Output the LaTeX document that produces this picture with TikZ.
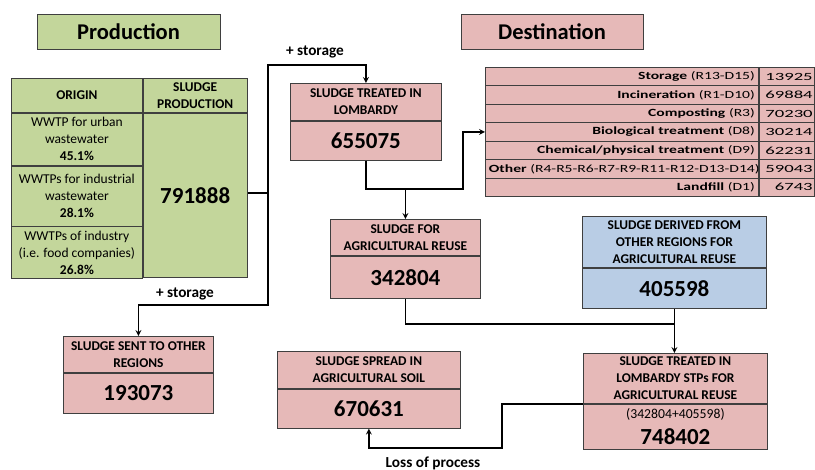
\documentclass[tikz,border=0pt]{standalone}
\usepackage{fontspec}
\setmainfont{Carlito}
\newfontfamily\rowfont[FakeStretch=1.42]{Carlito}
\newfontfamily\valfont[FakeStretch=1.7]{Carlito}
\usepackage{tikz}
\usetikzlibrary{arrows, positioning}

\definecolor{prodgreen}{HTML}{C3D69B}
\definecolor{destpink}{HTML}{E6B9B8}
\definecolor{regblue}{HTML}{B9CDE5}
\definecolor{edgegray}{HTML}{3F3F3F}

\begin{document}
\begin{tikzpicture}[x=1pt, y=-1pt, >=stealth,
        title/.style={rectangle, draw=edgegray, line width=0.8pt, minimum width=183pt, minimum height=35pt, font=\fontsize{22.5}{26}\selectfont\bfseries},
        cell/.style={rectangle, draw=edgegray, line width=0.8pt, inner sep=0pt, align=center, anchor=north west},
        head/.style={cell, font=\fontsize{13.4}{16.8}\selectfont\bfseries},
        txt/.style={cell, font=\fontsize{13.5}{17}\selectfont},
        num/.style={cell, font=\fontsize{23}{26}\selectfont\bfseries},
        row/.style={cell, minimum height=18.43pt, font=\rowfont\fontsize{11}{13}\selectfont},
        flow/.style={line width=1.6pt},
        note/.style={font=\fontsize{15.3}{17}\selectfont\bfseries}
        ]
        \useasboundingbox (0,0) rectangle (815,470);

        % Titles
        \node [title, fill=prodgreen] (prodt) at (128.5,31.5) {Production};
        \node [title, fill=destpink, minimum width=182pt] (destt) at (552,31.5) {Destination};

        % Production table
        \node [head, fill=prodgreen, minimum width=131pt, minimum height=34pt] (orig) at (11,78) {ORIGIN};
        \node [head, fill=prodgreen, minimum width=104pt, minimum height=34pt, right=0pt of orig] (prodh) {SLUDGE\\PRODUCTION};
        \node [txt, fill=prodgreen, minimum width=131pt, minimum height=52pt, below=0pt of orig] (o1) {WWTP for urban\\wastewater\\\textbf{45.1\%}};
        \node [txt, fill=prodgreen, minimum width=131pt, minimum height=60pt, below=0pt of o1] (o2) {WWTPs for industrial\\wastewater\\\textbf{28.1\%}};
        \node [txt, fill=prodgreen, minimum width=131pt, minimum height=52pt, below=0pt of o2] (o3) {WWTPs of industry\\(i.e. food companies)\\\textbf{26.8\%}};
        \node [num, fill=prodgreen, minimum width=104pt, minimum height=164pt, below=0pt of prodh] (prodv) {791888};

        % Destination table
        \foreach \lab/\val [count=\i] in {
            {\textbf{Storage} (R13-D15)}/13925,
            {\textbf{Incineration} (R1-D10)}/69884,
            {\textbf{Composting} (R3)}/70230,
            {\textbf{Biological treatment} (D8)}/30214,
            {\textbf{Chemical/physical treatment} (D9)}/62231,
            {\textbf{Other} (R4-R5-R6-R7-R9-R11-R12-D13-D14)}/59043,
            {\textbf{Landfill} (D1)}/6743} {
            \node [row, fill=destpink, minimum width=273pt, text width=266pt, inner xsep=3.5pt, align=right] (d\i) at (485,{67+18.43*(\i-1)}) {\mbox{\lab}};
            \node [row, fill=destpink, minimum width=55pt, text width=52pt, inner xsep=1.5pt, align=right, font=\valfont\fontsize{11}{13}\selectfont, right=0pt of d\i] (v\i) {\val};
        }

        % Boxes
        \node [head, fill=destpink, minimum width=151pt, minimum height=37pt] (lomb) at (290,83) {SLUDGE TREATED IN\\LOMBARDY};
        \node [num, fill=destpink, minimum width=151pt, minimum height=39pt, below=0pt of lomb] (lombv) {655075};

        \node [head, fill=destpink, minimum width=150pt, minimum height=36pt] (agri) at (330,219) {SLUDGE FOR\\AGRICULTURAL REUSE};
        \node [num, fill=destpink, minimum width=150pt, minimum height=42pt, below=0pt of agri] (agriv) {342804};

        \node [head, fill=regblue, minimum width=184pt, minimum height=51pt] (other) at (582,216) {SLUDGE DERIVED FROM\\OTHER REGIONS FOR\\AGRICULTURAL REUSE};
        \node [num, fill=regblue, minimum width=184pt, minimum height=40pt, below=0pt of other] (otherv) {405598};

        \node [head, fill=destpink, minimum width=184pt, minimum height=50pt] (stp) at (583,353) {SLUDGE TREATED IN\\LOMBARDY STPs FOR\\AGRICULTURAL REUSE};
        \node [num, fill=destpink, minimum width=184pt, minimum height=45pt, below=0pt of stp] (stpv) {{\fontsize{13.7}{15}\selectfont\mdseries (342804+405598)}\\748402};

        \node [head, fill=destpink, minimum width=183pt, minimum height=37pt] (spread) at (277,351) {SLUDGE SPREAD IN\\AGRICULTURAL SOIL};
        \node [num, fill=destpink, minimum width=183pt, minimum height=39pt, below=0pt of spread] (spreadv) {670631};

        \node [head, fill=destpink, minimum width=150pt, minimum height=36pt] (sent) at (63,336) {SLUDGE SENT TO OTHER\\REGIONS};
        \node [num, fill=destpink, minimum width=150pt, minimum height=40pt, below=0pt of sent] (sentv) {193073};

        % Edges
        \coordinate (jn) at (268,193);
        \coordinate (up) at (268,65);
        \coordinate (dn) at (268,305);
        \draw [flow] (prodv.east |- jn) -- (jn);
        \draw [->, flow] (jn) -- (up) -| (lomb.north);
        \draw [->, flow] (jn) -- (dn) -| (sent.north);
        \node [note] (stor1) at (315,52) {+ storage};
        \node [note] (stor2) at (185,294) {+ storage};

        \coordinate (tp) at (463,189);
        \draw [->, flow] (lombv.south) |- (tp) |- (d4.west);
        \draw [->, flow] (agri.north |- tp) -- (agri.north);

        \coordinate (mg) at (otherv.south |- 0,324);
        \draw [flow] (agriv.south) |- (mg);
        \draw [->, flow] (otherv.south) -- (otherv.south |- stp.north);

        % Loss
        \coordinate (lp) at (502,448);
        \draw [->, flow] (stpv.north west) -| (lp) -| (spreadv.south);
        \node [note] (loss) at (433,463) {Loss of process};

    \end{tikzpicture}
\end{document}
